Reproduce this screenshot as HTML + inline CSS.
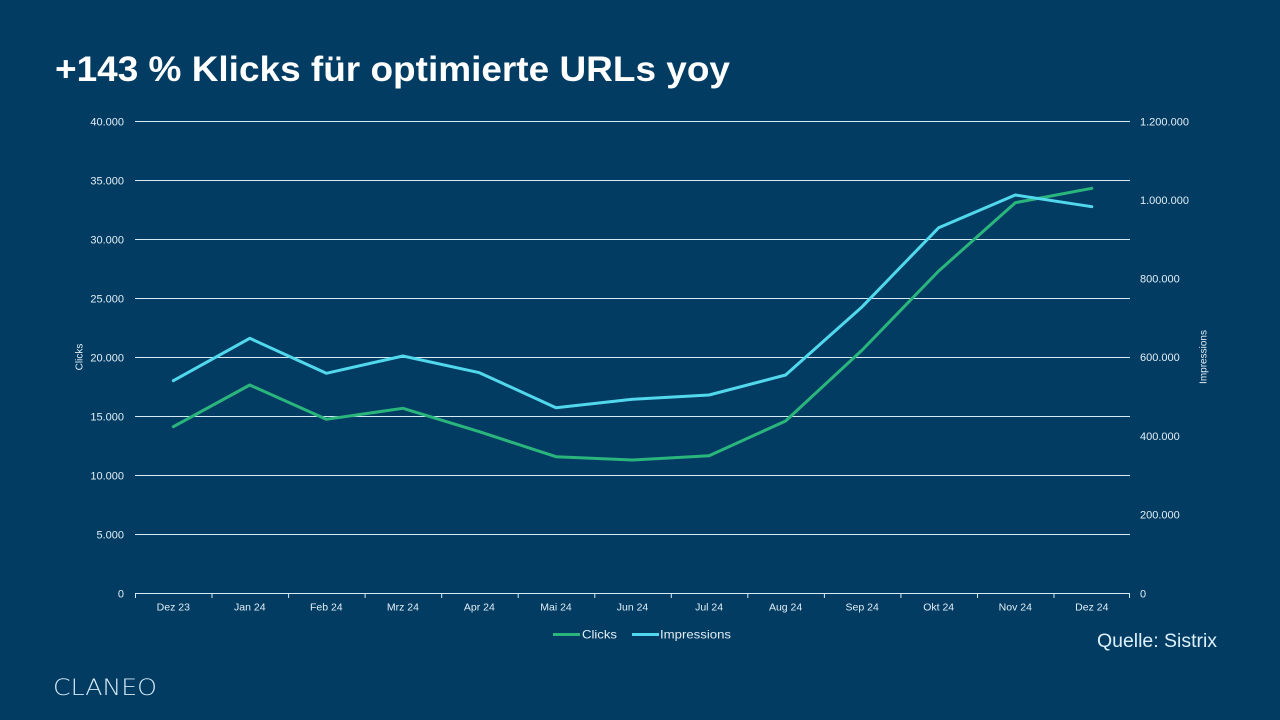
<!DOCTYPE html>
<html>
<head>
<meta charset="utf-8">
<style>
  html,body{margin:0;padding:0;background:#023c63;}
  body{width:1280px;height:720px;overflow:hidden;}
  svg{display:block;}
  text{font-family:"Liberation Sans",sans-serif;}
</style>
</head>
<body>
<svg width="1280" height="720" viewBox="0 0 1280 720" xmlns="http://www.w3.org/2000/svg">
  <rect x="0" y="0" width="1280" height="720" fill="#023c63"/>

  <!-- Title -->
  <text x="55" y="81" font-size="35" font-weight="bold" fill="#ffffff" textLength="675" lengthAdjust="spacingAndGlyphs">+143 % Klicks für optimierte URLs yoy</text>

  <!-- Gridlines -->
  <g stroke="#d3ebf7" stroke-width="1">
    <line x1="135" y1="121.5" x2="1130" y2="121.5"/>
    <line x1="135" y1="180.5" x2="1130" y2="180.5"/>
    <line x1="135" y1="239.5" x2="1130" y2="239.5"/>
    <line x1="135" y1="298.5" x2="1130" y2="298.5"/>
    <line x1="135" y1="357.5" x2="1130" y2="357.5"/>
    <line x1="135" y1="416.5" x2="1130" y2="416.5"/>
    <line x1="135" y1="475.5" x2="1130" y2="475.5"/>
    <line x1="135" y1="534.5" x2="1130" y2="534.5"/>
    <line x1="135" y1="593.5" x2="1130" y2="593.5"/>
  </g>
  <!-- X ticks -->
  <g stroke="#d3ebf7" stroke-width="1">
    <line x1="135.5" y1="593" x2="135.5" y2="598"/>
    <line x1="212" y1="593" x2="212" y2="598"/>
    <line x1="288.6" y1="593" x2="288.6" y2="598"/>
    <line x1="365.1" y1="593" x2="365.1" y2="598"/>
    <line x1="441.7" y1="593" x2="441.7" y2="598"/>
    <line x1="518.2" y1="593" x2="518.2" y2="598"/>
    <line x1="594.8" y1="593" x2="594.8" y2="598"/>
    <line x1="671.3" y1="593" x2="671.3" y2="598"/>
    <line x1="747.8" y1="593" x2="747.8" y2="598"/>
    <line x1="824.4" y1="593" x2="824.4" y2="598"/>
    <line x1="900.9" y1="593" x2="900.9" y2="598"/>
    <line x1="977.5" y1="593" x2="977.5" y2="598"/>
    <line x1="1054" y1="593" x2="1054" y2="598"/>
    <line x1="1129.5" y1="593" x2="1129.5" y2="598"/>
  </g>

  <!-- Left axis labels -->
  <g font-size="11" fill="#e3eef5" text-anchor="end">
    <text x="124" y="125.5">40.000</text>
    <text x="124" y="184.5">35.000</text>
    <text x="124" y="243.5">30.000</text>
    <text x="124" y="302.5">25.000</text>
    <text x="124" y="361.5">20.000</text>
    <text x="124" y="420.5">15.000</text>
    <text x="124" y="479.5">10.000</text>
    <text x="124" y="538.5">5.000</text>
    <text x="124" y="597.5">0</text>
  </g>
  <!-- Right axis labels -->
  <g font-size="11" fill="#e3eef5" text-anchor="start">
    <text x="1140" y="125.5">1.200.000</text>
    <text x="1140" y="204">1.000.000</text>
    <text x="1140" y="282.5">800.000</text>
    <text x="1140" y="361">600.000</text>
    <text x="1140" y="440">400.000</text>
    <text x="1140" y="518.5">200.000</text>
    <text x="1140" y="597.5">0</text>
  </g>

  <!-- Axis titles -->
  <text x="0" y="0" font-size="10" fill="#e3eef5" text-anchor="middle" transform="translate(82.5,357) rotate(-90)">Clicks</text>
  <text x="0" y="0" font-size="10" fill="#e3eef5" text-anchor="middle" transform="translate(1206.5,357) rotate(-90)">Impressions</text>

  <!-- X labels -->
  <g font-size="10.5" fill="#e3eef5" text-anchor="middle">
    <text x="173.3" y="610.5">Dez 23</text>
    <text x="249.8" y="610.5">Jan 24</text>
    <text x="326.3" y="610.5">Feb 24</text>
    <text x="402.9" y="610.5">Mrz 24</text>
    <text x="479.4" y="610.5">Apr 24</text>
    <text x="556" y="610.5">Mai 24</text>
    <text x="632.5" y="610.5">Jun 24</text>
    <text x="709.1" y="610.5">Jul 24</text>
    <text x="785.6" y="610.5">Aug 24</text>
    <text x="862.2" y="610.5">Sep 24</text>
    <text x="938.7" y="610.5">Okt 24</text>
    <text x="1015.3" y="610.5">Nov 24</text>
    <text x="1091.8" y="610.5">Dez 24</text>
  </g>

  <!-- Series -->
  <polyline fill="none" stroke="#29b57c" stroke-width="3" stroke-linejoin="round" stroke-linecap="round"
    points="173.3,426.7 249.8,385 326.3,419.3 402.9,408.3 479.4,431.7 556,456.7 632.5,460 709.1,455.7 785.6,421 862.2,350 938.7,271 1015.3,202.7 1091.8,188.3"/>
  <polyline fill="none" stroke="#52d8ec" stroke-width="3" stroke-linejoin="round" stroke-linecap="round"
    points="173.3,380.7 249.8,338.3 326.3,373.3 402.9,356 479.4,372.7 556,407.7 632.5,399.3 709.1,395 785.6,375 862.2,306.7 938.7,227.7 1015.3,195 1091.8,206.7"/>

  <!-- Legend -->
  <line x1="553" y1="634.5" x2="580" y2="634.5" stroke="#29b57c" stroke-width="3"/>
  <text x="582" y="638.5" font-size="12" fill="#e3eef5" textLength="35" lengthAdjust="spacingAndGlyphs">Clicks</text>
  <line x1="632" y1="634.5" x2="659" y2="634.5" stroke="#52d8ec" stroke-width="3"/>
  <text x="660" y="638.5" font-size="12" fill="#e3eef5" textLength="71" lengthAdjust="spacingAndGlyphs">Impressions</text>

  <!-- Source -->
  <text x="1097" y="647" font-size="19" fill="#dcf0fb" textLength="120" lengthAdjust="spacingAndGlyphs">Quelle: Sistrix</text>

  <!-- Logo -->
  <text x="53" y="695" font-size="22" fill="#d3e8f4" style="font-family:'DejaVu Sans','Liberation Sans',sans-serif;font-weight:200" textLength="104" lengthAdjust="spacingAndGlyphs">CLANEO</text>
</svg>
</body>
</html>
